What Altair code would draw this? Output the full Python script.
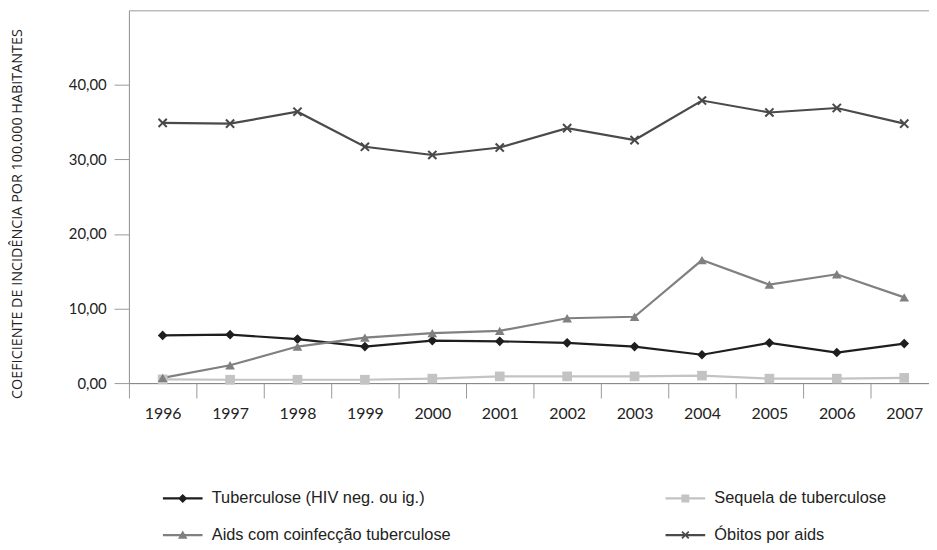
import altair as alt
import pandas as pd

years = [str(y) for y in range(1996, 2008)]
series_names = [
    "Tuberculose (HIV neg. ou ig.)",
    "Sequela de tuberculose",
    "Aids com coinfecção tuberculose",
    "Óbitos por aids",
]
tuberculose = [6.4, 6.5, 5.9, 4.9, 5.7, 5.6, 5.4, 4.9, 3.8, 5.4, 4.1, 5.3]
sequela = [0.5, 0.45, 0.45, 0.45, 0.6, 0.9, 0.9, 0.9, 1.0, 0.6, 0.6, 0.7]
aids_coinf = [0.7, 2.4, 4.9, 6.1, 6.7, 7.0, 8.7, 8.9, 16.5, 13.2, 14.6, 11.5]
obitos = [34.9, 34.8, 36.4, 31.7, 30.6, 31.6, 34.2, 32.6, 37.9, 36.3, 36.9, 34.8]
y_ticks = [0, 10, 20, 30, 40]
colors = ["#1e1e1e", "#c3c3c3", "#808080", "#4a4a4a"]

X_PATH = ("M-1,-0.7L-0.7,-1L0,-0.3L0.7,-1L1,-0.7L0.3,0L1,0.7L0.7,1"
          "L0,0.3L-0.7,1L-1,0.7L-0.3,0Z")
LINE = "M-5,-0.28H5V0.28H-5Z"
legend_paths = [
    LINE + "M0,-1.15L1.15,0L0,1.15L-1.15,0Z",
    LINE + "M-1,-1H1V1H-1Z",
    LINE + "M0,-1.15L1.2,0.95H-1.2Z",
    LINE + X_PATH,
]

rows = []
for name, vals in zip(series_names, [tuberculose, sequela, aids_coinf, obitos]):
    for yr, v in zip(years, vals):
        rows.append({"ano": yr, "serie": name, "valor": v})
df = pd.DataFrame(rows)

x_enc = alt.X(
    "ano:N",
    sort=years,
    scale=alt.Scale(type="band", domain=years, range=[0, 816], paddingInner=0, paddingOuter=0),
    axis=alt.Axis(
        title=None, labelAngle=0, labelFont="Lato", labelFontSize=16, labelColor="#222",
        labelPadding=8, tickBand="extent", tickSize=15, tickColor="#999",
        domainColor="#888", grid=False,
    ),
)
y_enc = alt.Y(
    "valor:Q",
    scale=alt.Scale(domain=[0, 50], nice=False),
    axis=alt.Axis(
        values=y_ticks,
        labelExpr="replace(format(datum.value, '.2f'), '.', ',')",
        labelFont="Lato", labelFontSize=15, labelColor="#222", labelPadding=8,
        tickSize=15, tickColor="#999", domainColor="#999", grid=False,
        title="COEFICIENTE DE INCIDÊNCIA POR 100.000 HABITANTES",
        titleFont="Open Sans", titleFontSize=14.5, titleFontWeight="normal",
        titleColor="#222", titleAngle=270, titleX=-108, titleY=205,
        titleAlign="center", titleBaseline="alphabetic", titleLimit=600,
    ),
)
color_scale = alt.Scale(domain=series_names, range=colors)

base = alt.Chart(df)

lines = base.mark_line(strokeWidth=2.2).encode(
    x=x_enc, y=y_enc,
    color=alt.Color("serie:N", scale=color_scale, legend=None),
)
points = base.mark_point(filled=True, opacity=1, size=95).encode(
    x=x_enc, y=y_enc,
    color=alt.Color("serie:N", scale=color_scale, legend=None),
    shape=alt.Shape("serie:N", scale=alt.Scale(domain=series_names,
                    range=["diamond", "square", "triangle-up", X_PATH]), legend=None),
)

leg = alt.Legend(
    title=None, orient="none", legendX=46, legendY=484, columns=2, direction="horizontal",
    labelFont="Liberation Sans", labelFontSize=16.5, labelColor="#222", labelLimit=500,
    symbolSize=64, symbolStrokeWidth=0, symbolOpacity=1, labelOffset=21,
    rowPadding=20, columnPadding=216, padding=0,
)
legend_layer = base.mark_point(filled=True, opacity=1).encode(
    x=x_enc, y=y_enc,
    color=alt.Color("serie:N", scale=color_scale, legend=leg),
    shape=alt.Shape("serie:N", scale=alt.Scale(domain=series_names, range=legend_paths), legend=leg),
).transform_filter("false")

chart = alt.layer(lines, points, legend_layer).resolve_scale(
    color="independent", shape="independent"
).properties(
    width=807, height=376,
    autosize=alt.AutoSizeParams(type="none"),
    padding={"left": 122, "top": 0, "right": 0, "bottom": 166},
).configure_view(stroke="#999", strokeWidth=1)

chart.save("out.html", embed_options={"renderer": "svg", "actions": False})
